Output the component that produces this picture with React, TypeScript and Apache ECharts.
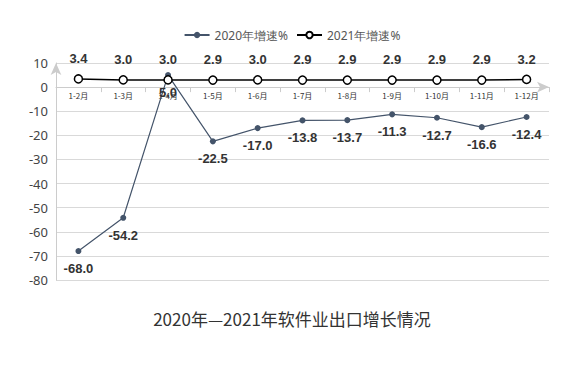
import React, { useEffect, useRef } from "react";
import * as echarts from "echarts";

const categories = ["1-2月", "1-3月", "1-4月", "1-5月", "1-6月", "1-7月", "1-8月", "1-9月", "1-10月", "1-11月", "1-12月"];
const growth2020 = [-68.0, -54.2, 5.0, -22.5, -17.0, -13.8, -13.7, -11.3, -12.7, -16.6, -12.4];
const growth2021 = [3.4, 3.0, 3.0, 2.9, 3.0, 2.9, 2.9, 2.9, 2.9, 2.9, 3.2];
const seriesNames = ["2020年增速%", "2021年增速%"];
const chartTitle = "2020年—2021年软件业出口增长情况";
const yMin = -80;
const yMax = 10;

export default function App() {
  const ref = useRef<HTMLDivElement>(null);
  useEffect(() => {
    document.body.style.margin = "0";
    if (!ref.current) return;
    const chart = echarts.init(ref.current, null, { renderer: "svg" });
    const gridTop = 63;
    const gridBottom = 91;
    const gridHeight = 371 - gridTop - gridBottom;
    const zeroOffset = -(gridHeight * (0 - yMin)) / (yMax - yMin);
    const labelStyle = {
      show: true,
      fontSize: 13,
      fontWeight: "bold" as const,
      color: "#333",
      fontFamily: "Liberation Sans",
      formatter: (p: any) => Number(p.value).toFixed(1),
    };
    chart.setOption({
      animation: false,
      backgroundColor: "#fff",
      title: {
        text: chartTitle,
        left: "center",
        top: 305,
        textStyle: { fontSize: 17, fontWeight: "normal", color: "#333", fontFamily: "Noto Sans CJK SC" },
      },
      legend: {
        top: 24,
        left: "center",
        itemGap: 8,
        itemWidth: 25,
        itemHeight: 8,
        textStyle: { fontSize: 12, color: "#555", fontFamily: "Noto Sans" },
        data: seriesNames,
      },
      grid: { left: 56, right: 35, top: gridTop, bottom: gridBottom },
      xAxis: {
        type: "category",
        data: categories,
        boundaryGap: true,
        offset: zeroOffset,
        axisLine: { show: true, onZero: false, lineStyle: { color: "#ccc" }, symbol: ["none", "arrow"], symbolSize: [8, 12] },
        axisTick: { show: true, lineStyle: { color: "#ccc" } },
        axisLabel: { fontSize: 8, color: "#333", margin: 4, fontFamily: "Noto Sans CJK SC" },
      },
      yAxis: {
        type: "value",
        min: yMin,
        max: yMax,
        interval: 10,
        axisLine: { show: true, lineStyle: { color: "#ccc" }, symbol: ["none", "arrow"], symbolSize: [8, 12] },
        axisTick: { show: false },
        splitLine: { lineStyle: { color: "#d9d9d9" } },
        axisLabel: { fontSize: 13, color: "#444", fontFamily: "Noto Sans" },
      },
      series: [
        {
          name: seriesNames[0],
          type: "line",
          data: growth2020,
          symbol: "circle",
          symbolSize: 6,
          itemStyle: { color: "#44546a" },
          lineStyle: { color: "#44546a", width: 1.2 },
          label: { ...labelStyle, position: "bottom", distance: 8 },
        },
        {
          name: seriesNames[1],
          type: "line",
          data: growth2021,
          symbol: "circle",
          symbolSize: 8,
          itemStyle: { color: "#fff", borderColor: "#000", borderWidth: 1.5 },
          lineStyle: { color: "#000", width: 1.5 },
          label: { ...labelStyle, position: "top", distance: 9 },
        },
      ],
    });
    return () => chart.dispose();
  }, []);
  return <div ref={ref} style={{ width: 584, height: 371 }} />;
}
